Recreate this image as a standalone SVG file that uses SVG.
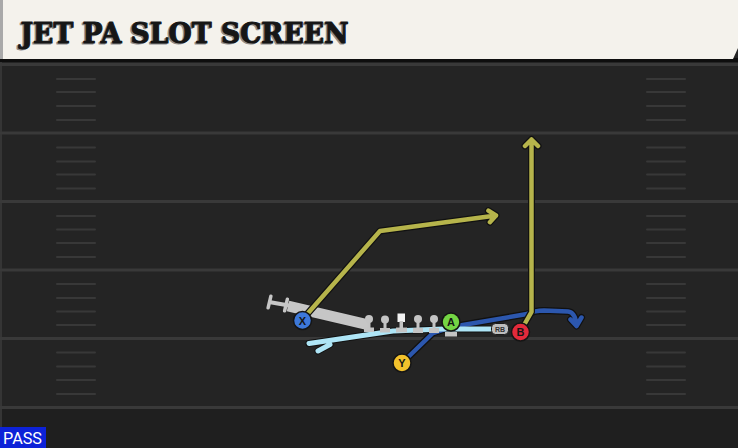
<svg xmlns="http://www.w3.org/2000/svg" width="738" height="448" viewBox="0 0 738 448">
<style>
.yard{stroke:#393939;stroke-width:3}
.hash{stroke:#383838;stroke-width:2;stroke-linecap:round}
.ol{fill:none;stroke:#111;stroke-width:7;stroke-linejoin:round;stroke-linecap:round}
.olive{fill:none;stroke:#b6b44b;stroke-width:4.5;stroke-linejoin:round;stroke-linecap:round}
.dblue{fill:none;stroke:#2c57ae;stroke-width:4.5;stroke-linejoin:round;stroke-linecap:round}
.lblue{fill:none;stroke:#aee5f6;stroke-width:5;stroke-linejoin:round;stroke-linecap:round}
.blk{fill:#c4c4c4}
.pl{stroke:#151515;stroke-width:1.5}
.lt{font-family:"Liberation Sans",Arial,sans-serif;font-weight:bold;font-size:11px;fill:#151515;text-anchor:middle}
.title{font-family:"DejaVu Serif",serif;font-weight:bold;font-size:28px;stroke-width:1.1;stroke-linejoin:round}
</style>
<rect width="738" height="448" fill="#242424"/>
<rect y="408" width="738" height="40" fill="#1f1f1f"/>
<line x1="1" y1="60" x2="1" y2="448" stroke="#353535" stroke-width="2"/>
<g id="field-lines">
<line class="yard" x1="0" y1="64.5" x2="738" y2="64.5"/>
<line class="yard" x1="0" y1="133" x2="738" y2="133"/>
<line class="yard" x1="0" y1="201.5" x2="738" y2="201.5"/>
<line class="yard" x1="0" y1="270" x2="738" y2="270"/>
<line class="yard" x1="0" y1="338.5" x2="738" y2="338.5"/>
<line class="yard" x1="0" y1="407.5" x2="738" y2="407.5"/>
<g id="hashes-left">
<line class="hash" x1="57" y1="79" x2="95" y2="79"/><line class="hash" x1="57" y1="92" x2="95" y2="92"/><line class="hash" x1="57" y1="106" x2="95" y2="106"/><line class="hash" x1="57" y1="120" x2="95" y2="120"/>
<line class="hash" x1="57" y1="147.5" x2="95" y2="147.5"/><line class="hash" x1="57" y1="161.5" x2="95" y2="161.5"/><line class="hash" x1="57" y1="174.5" x2="95" y2="174.5"/><line class="hash" x1="57" y1="188.5" x2="95" y2="188.5"/>
<line class="hash" x1="57" y1="216" x2="95" y2="216"/><line class="hash" x1="57" y1="229.5" x2="95" y2="229.5"/><line class="hash" x1="57" y1="243" x2="95" y2="243"/><line class="hash" x1="57" y1="257" x2="95" y2="257"/>
<line class="hash" x1="57" y1="284" x2="95" y2="284"/><line class="hash" x1="57" y1="298" x2="95" y2="298"/><line class="hash" x1="57" y1="311.5" x2="95" y2="311.5"/><line class="hash" x1="57" y1="325" x2="95" y2="325"/>
<line class="hash" x1="57" y1="352.5" x2="95" y2="352.5"/><line class="hash" x1="57" y1="366.5" x2="95" y2="366.5"/><line class="hash" x1="57" y1="380" x2="95" y2="380"/><line class="hash" x1="57" y1="394" x2="95" y2="394"/>
</g>
<g id="hashes-right">
<line class="hash" x1="647" y1="79" x2="685" y2="79"/><line class="hash" x1="647" y1="92" x2="685" y2="92"/><line class="hash" x1="647" y1="106" x2="685" y2="106"/><line class="hash" x1="647" y1="120" x2="685" y2="120"/>
<line class="hash" x1="647" y1="147.5" x2="685" y2="147.5"/><line class="hash" x1="647" y1="161.5" x2="685" y2="161.5"/><line class="hash" x1="647" y1="174.5" x2="685" y2="174.5"/><line class="hash" x1="647" y1="188.5" x2="685" y2="188.5"/>
<line class="hash" x1="647" y1="216" x2="685" y2="216"/><line class="hash" x1="647" y1="229.5" x2="685" y2="229.5"/><line class="hash" x1="647" y1="243" x2="685" y2="243"/><line class="hash" x1="647" y1="257" x2="685" y2="257"/>
<line class="hash" x1="647" y1="284" x2="685" y2="284"/><line class="hash" x1="647" y1="298" x2="685" y2="298"/><line class="hash" x1="647" y1="311.5" x2="685" y2="311.5"/><line class="hash" x1="647" y1="325" x2="685" y2="325"/>
<line class="hash" x1="647" y1="352.5" x2="685" y2="352.5"/><line class="hash" x1="647" y1="366.5" x2="685" y2="366.5"/><line class="hash" x1="647" y1="380" x2="685" y2="380"/><line class="hash" x1="647" y1="394" x2="685" y2="394"/>
</g>
</g>
<g id="header">
<rect x="0" y="58" width="738" height="4" fill="#0e0e0e"/>
<polygon points="0,0 738,0 738,48 733,59 0,59" fill="#f4f2ec"/>
<rect x="0" y="0" width="3" height="59" fill="#a9a9a9"/>
<text class="title" x="19" y="43.5" fill="#8c8c8c" stroke="#8c8c8c" textLength="328" lengthAdjust="spacingAndGlyphs">JET PA SLOT SCREEN</text>
<text class="title" x="20.5" y="42.5" fill="#161616" stroke="#161616" textLength="328" lengthAdjust="spacingAndGlyphs">JET PA SLOT SCREEN</text>
</g>
<g id="screen-block">
<line x1="269" y1="302" x2="289" y2="305.5" stroke="#222" stroke-width="6"/>
<line x1="288" y1="306" x2="369" y2="325" stroke="#222" stroke-width="13"/>
<line x1="269" y1="302" x2="289" y2="305.5" stroke="#c6c6c6" stroke-width="4"/>
<line x1="288" y1="306" x2="369" y2="325" stroke="#c6c6c6" stroke-width="11"/>
<line x1="270.9" y1="296.2" x2="268.1" y2="307.8" stroke="#c6c6c6" stroke-width="3.5" stroke-linecap="round"/>
<line x1="287.4" y1="299.2" x2="284.6" y2="310.8" stroke="#c6c6c6" stroke-width="3.5" stroke-linecap="round"/>
</g>
<g id="connectors">
<path class="ol" d="M491 329 L443 329 L393 331 L309 343.5 M330 344.5 L318 351"/>
<path class="ol" d="M402 363 L433 333 L451 327 L527 314 Q535 310.5 544 310.5 L568 311.5 Q575 312 576.5 325 M570.5 319.5 L576.5 326 L581.5 317.5"/>
<path class="dblue" d="M402 363 L433 333 L451 327 L527 314 Q535 310.5 544 310.5 L568 311.5 Q575 312 576.5 325 M570.5 319.5 L576.5 326 L581.5 317.5"/>
<path class="lblue" d="M491 329 L443 329 L393 331 L309 343.5 M330 344.5 L318 351"/>
<path class="ol" d="M302 320 L380 231 L496 215.5 M488.4 210.7 L496 215.5 L489.9 222.2"/>
<path class="olive" d="M302 320 L380 231 L496 215.5 M488.4 210.7 L496 215.5 L489.9 222.2"/>
<path class="ol" d="M520 332 L531.5 312 L531.5 139.5 M525 146 L531.5 139.5 L538 146"/>
<path class="olive" d="M520 332 L531.5 312 L531.5 139.5 M525 146 L531.5 139.5 L538 146"/>
</g>
<g id="lineman-1"><circle class="blk" cx="369" cy="319" r="4"/><rect class="blk" x="367.5" y="319" width="3" height="9"/><rect class="blk" x="364" y="327.5" width="10" height="4.5"/></g>
<g id="lineman-2"><circle class="blk" cx="385" cy="319.5" r="4"/><rect class="blk" x="383.5" y="319.5" width="3" height="9"/><rect class="blk" x="380" y="328" width="10" height="4.5"/></g>
<g id="center"><rect x="397.5" y="313.5" width="7.5" height="8.5" fill="#f2f2f2"/><rect class="blk" x="399.5" y="321" width="3.5" height="7"/><rect class="blk" x="396" y="327.5" width="11" height="5"/></g>
<g id="lineman-3"><circle class="blk" cx="418" cy="319" r="4"/><rect class="blk" x="416.5" y="319" width="3" height="9"/><rect class="blk" x="413" y="328" width="10" height="5"/></g>
<g id="lineman-4"><circle class="blk" cx="434" cy="319" r="4"/><rect class="blk" x="432.5" y="319" width="3" height="9"/><rect class="blk" x="429" y="328" width="10" height="5"/></g>
<g id="rb-label"><rect x="491.5" y="323.5" width="17" height="11" rx="4" fill="#bdbdbd" stroke="#1a1a1a" stroke-width="1"/><text x="500" y="331.8" font-family="'Liberation Sans',Arial,sans-serif" font-weight="bold" font-size="7" fill="#333" text-anchor="middle">RB</text></g>
<g id="player-A"><rect class="blk" x="445" y="332" width="12" height="4.5"/><circle class="pl" cx="451" cy="322" r="9"/><circle cx="451" cy="322" r="8.2" fill="#74d544"/><text class="lt" x="451" y="326">A</text></g>
<g id="player-X"><circle class="pl" cx="302.5" cy="320.5" r="9" fill="#3d78d9"/><text class="lt" x="302.5" y="324.5">X</text></g>
<g id="player-B"><circle class="pl" cx="520.5" cy="332" r="9" fill="#e32a3b"/><text class="lt" x="520.5" y="336">B</text></g>
<g id="player-Y"><circle class="pl" cx="402" cy="363" r="9" fill="#f3c22c"/><text class="lt" x="402" y="367">Y</text></g>
<g id="pass-badge"><rect x="0" y="427" width="46" height="21" fill="#0d22d8"/><text x="3" y="443.5" font-family="Roboto,'Liberation Sans',sans-serif" font-size="16.5" fill="#ffffff" textLength="39" lengthAdjust="spacingAndGlyphs">PASS</text></g>
</svg>
